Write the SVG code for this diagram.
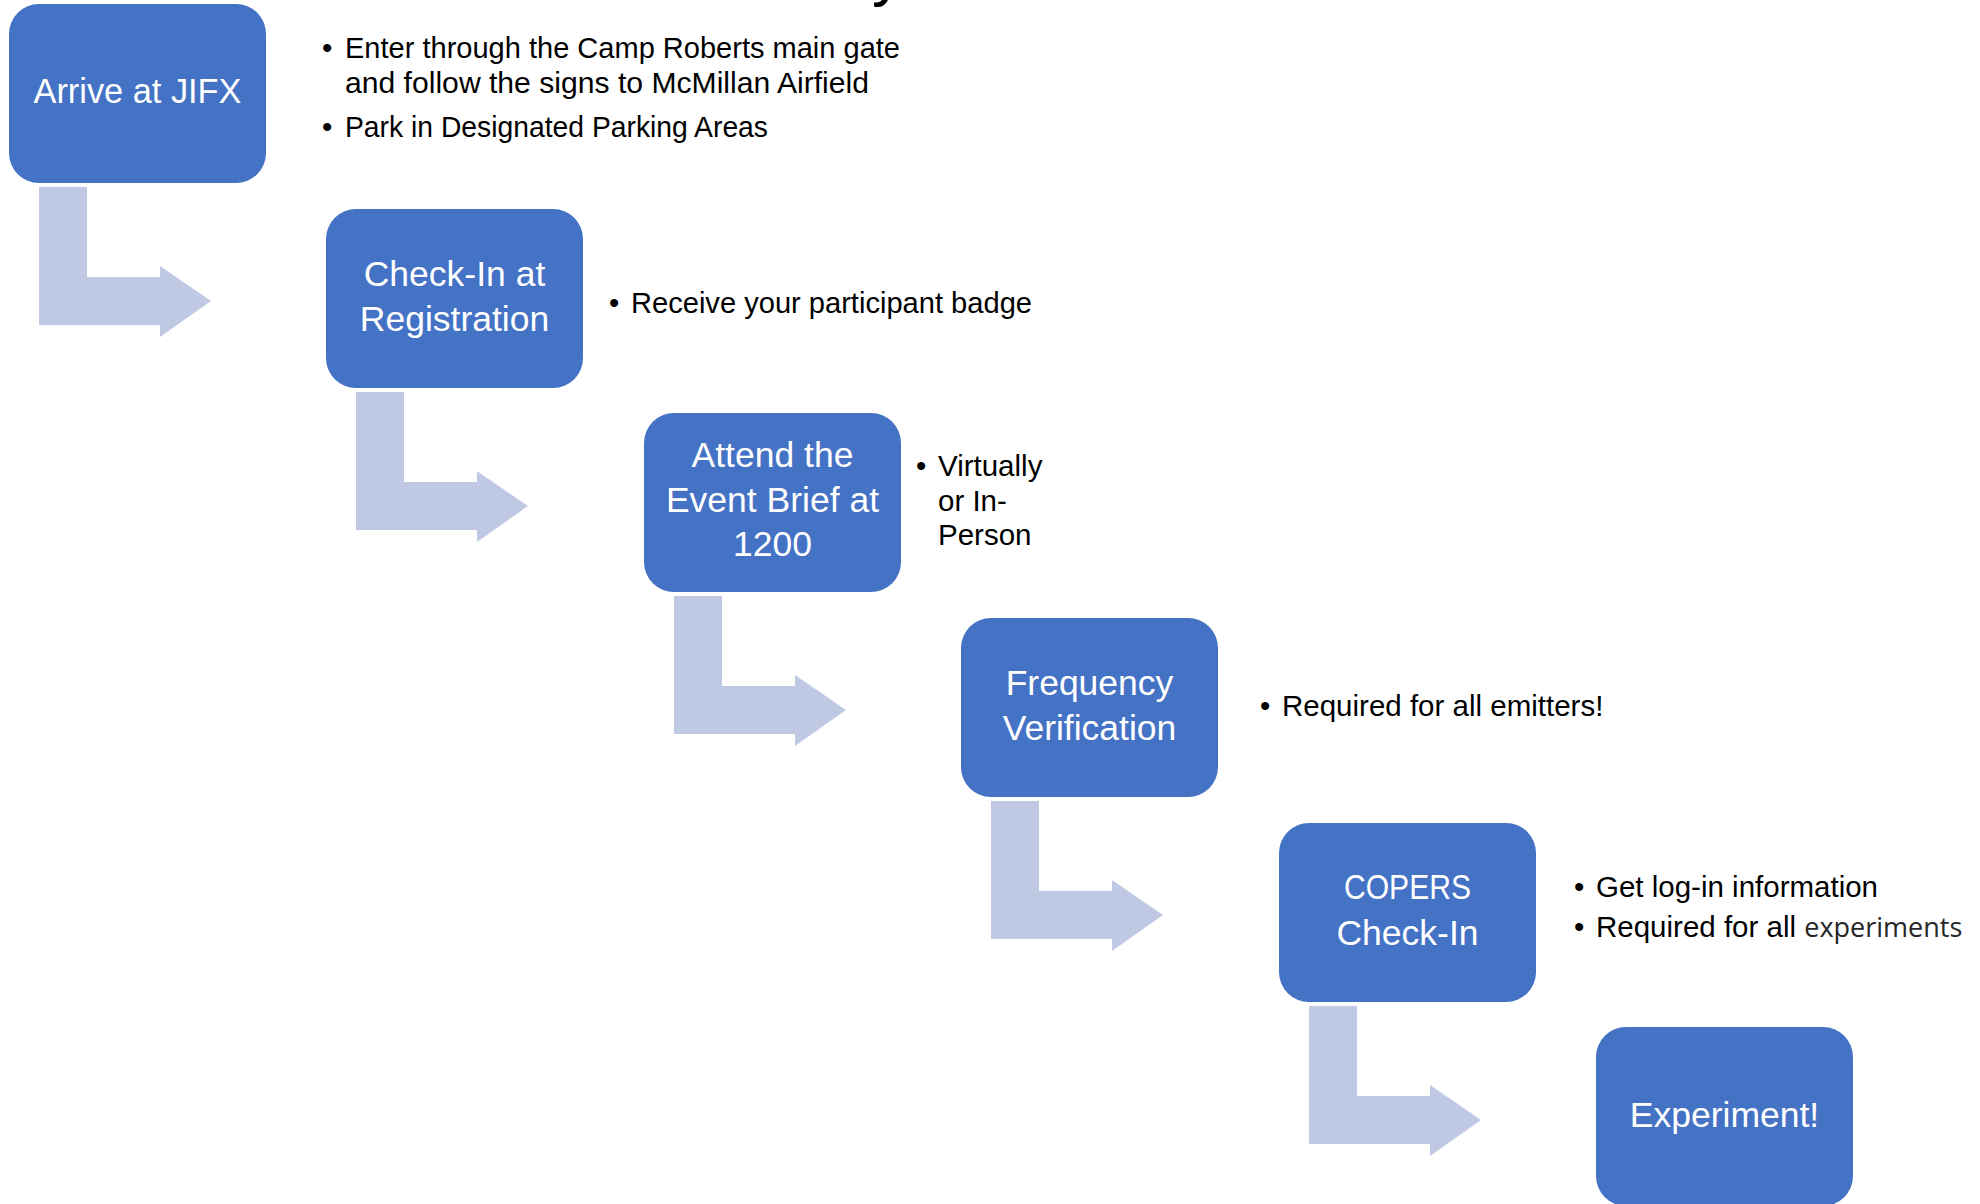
<svg xmlns="http://www.w3.org/2000/svg" width="1980" height="1204" viewBox="0 0 1980 1204">
<style>
.box{fill:#4472C4;}
.arrow{fill:#BFC9E4;}
.lbl{font-family:"Liberation Sans",Arial,sans-serif;font-size:35.5px;fill:#FFFFFF;text-anchor:middle;}
.bul{font-family:"Liberation Sans",Arial,sans-serif;font-size:29.5px;fill:#000000;}
.alt{font-family:"Open Sans","Liberation Sans",sans-serif;font-size:27px;fill:#262626;}
.title{font-family:"Liberation Sans",Arial,sans-serif;font-size:64px;fill:#000000;}
</style>
<rect x="0" y="0" width="1980" height="1204" fill="#FFFFFF"/>
<text class="title" x="872" y="-6">y</text>
<g id="connectors">
<path class="arrow" d="M39 187 H87 V277 H160 V266 L211 301 L160 337 V325 H39 Z"/>
<path class="arrow" d="M356 392 H404 V482 H477 V471 L528 506 L477 542 V530 H356 Z"/>
<path class="arrow" d="M674 596 H722 V686 H795 V675 L846 710 L795 746 V734 H674 Z"/>
<path class="arrow" d="M991 801 H1039 V891 H1112 V880 L1163 915 L1112 951 V939 H991 Z"/>
<path class="arrow" d="M1309 1006 H1357 V1096 H1430 V1085 L1481 1120 L1430 1156 V1144 H1309 Z"/>
</g>
<g id="node-arrive">
<rect class="box" x="9" y="4" width="257" height="179" rx="30" ry="30"/>
<text class="lbl" x="137.5" y="103" textLength="208" lengthAdjust="spacingAndGlyphs">Arrive at JIFX</text>
</g>
<g id="node-checkin">
<rect class="box" x="326" y="209" width="257" height="179" rx="30" ry="30"/>
<text class="lbl" x="454.5" y="286">Check-In at</text>
<text class="lbl" x="454.5" y="331">Registration</text>
</g>
<g id="node-brief">
<rect class="box" x="644" y="413" width="257" height="179" rx="30" ry="30"/>
<text class="lbl" x="772.5" y="467">Attend the</text>
<text class="lbl" x="772.5" y="511.5">Event Brief at</text>
<text class="lbl" x="772.5" y="556">1200</text>
</g>
<g id="node-frequency">
<rect class="box" x="961" y="618" width="257" height="179" rx="30" ry="30"/>
<text class="lbl" x="1089.5" y="695">Frequency</text>
<text class="lbl" x="1089.5" y="740">Verification</text>
</g>
<g id="node-copers">
<rect class="box" x="1279" y="823" width="257" height="179" rx="30" ry="30"/>
<text class="lbl" x="1407.5" y="899" textLength="127" lengthAdjust="spacingAndGlyphs">COPERS</text>
<text class="lbl" x="1407.5" y="944.5">Check-In</text>
</g>
<g id="node-experiment">
<rect class="box" x="1596" y="1027" width="257" height="179" rx="30" ry="30"/>
<text class="lbl" x="1724.5" y="1126.5">Experiment!</text>
</g>
<g id="notes">
<text class="bul" x="322" y="58">•</text>
<text class="bul" x="345" y="58" textLength="555" lengthAdjust="spacingAndGlyphs">Enter through the Camp Roberts main gate</text>
<text class="bul" x="345" y="93" textLength="524" lengthAdjust="spacingAndGlyphs">and follow the signs to McMillan Airfield</text>
<text class="bul" x="322" y="137">•</text>
<text class="bul" x="345" y="137" textLength="423" lengthAdjust="spacingAndGlyphs">Park in Designated Parking Areas</text>
<text class="bul" x="609" y="313">•</text>
<text class="bul" x="631" y="313" textLength="401" lengthAdjust="spacingAndGlyphs">Receive your participant badge</text>
<text class="bul" x="916" y="476">•</text>
<text class="bul" x="938" y="476">Virtually</text>
<text class="bul" x="938" y="511">or In-</text>
<text class="bul" x="938" y="545">Person</text>
<text class="bul" x="1260" y="716">•</text>
<text class="bul" x="1282" y="716">Required for all emitters!</text>
<text class="bul" x="1574" y="897">•</text>
<text class="bul" x="1596" y="897">Get log-in information</text>
<text class="bul" x="1574" y="937">•</text>
<text class="bul" x="1596" y="937">Required for all <tspan class="alt">experiments</tspan></text>
</g>
</svg>
